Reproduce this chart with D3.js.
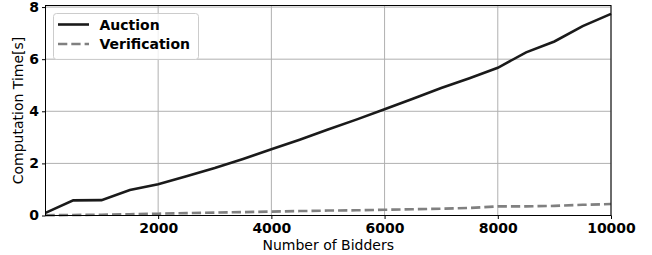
<!DOCTYPE html>
<html><head><meta charset="utf-8">
<script src="https://cdn.jsdelivr.net/npm/d3@7"></script>
<style>body{margin:0;background:#fff}svg{display:block}</style>
</head><body>
<script>
const bidders = [10,500,1000,1500,2000,2500,3000,3500,4000,4500,5000,5500,6000,6500,7000,7500,8000,8500,9000,9500,10000];
const auction = [0.10,0.58,0.59,0.98,1.20,1.51,1.82,2.17,2.54,2.91,3.30,3.68,4.08,4.48,4.89,5.27,5.67,6.26,6.68,7.27,7.74];
const verification = [0.01,0.02,0.03,0.05,0.07,0.09,0.11,0.13,0.15,0.17,0.19,0.20,0.22,0.24,0.26,0.29,0.35,0.35,0.37,0.41,0.44];
const xTicks = [2000,4000,6000,8000,10000];
const yTicks = [0,2,4,6,8];
const seriesNames = ["Auction","Verification"];

const W=652,H=255;
const L=45.5,R=611,T=5.5,B=215.5;
const svg=d3.select("body").append("svg").attr("width",W).attr("height",H);
const x=d3.scaleLinear().domain([10,10000]).range([L,R]);
const y=d3.scaleLinear().domain([0,8.06]).range([B,T]);
const font="DejaVu Sans";

// grid
svg.append("g").selectAll("line").data(xTicks).join("line")
 .attr("x1",d=>x(d)).attr("x2",d=>x(d)).attr("y1",T).attr("y2",B)
 .attr("stroke","#b0b0b0").attr("stroke-width",1);
svg.append("g").selectAll("line").data(yTicks).join("line")
 .attr("y1",d=>y(d)).attr("y2",d=>y(d)).attr("x1",L).attr("x2",R)
 .attr("stroke","#b0b0b0").attr("stroke-width",1);

// lines
const line=d3.line().x((d,i)=>x(bidders[i])).y(d=>y(d));
svg.append("path").datum(verification).attr("d",line).attr("fill","none")
 .attr("stroke","#808080").attr("stroke-width",2.6).attr("stroke-dasharray","9.3,4");
svg.append("path").datum(auction).attr("d",line).attr("fill","none")
 .attr("stroke","#1a1a1a").attr("stroke-width",2.6);

// axes
const xAx=svg.append("g").attr("transform",`translate(0,${B})`)
 .call(d3.axisBottom(x).tickValues(xTicks).tickFormat(d3.format("d")).tickSize(3.5).tickPadding(4).tickSizeOuter(0));
const yAx=svg.append("g").attr("transform",`translate(${L},0)`)
 .call(d3.axisLeft(y).tickValues(yTicks).tickFormat(d3.format("d")).tickSize(3.5).tickPadding(3).tickSizeOuter(0));
[xAx,yAx].forEach(a=>{
 a.select(".domain").remove();
 a.selectAll("text").attr("font-family",font).attr("font-size",14).attr("font-weight","bold").attr("fill","#000");
 a.selectAll("line").attr("stroke","#000");
});
// frame
svg.append("rect").attr("x",L).attr("y",T).attr("width",R-L).attr("height",B-T)
 .attr("fill","none").attr("stroke","#000").attr("stroke-width",1);

// labels
svg.append("text").attr("x",(L+R)/2).attr("y",250).attr("text-anchor","middle")
 .attr("font-family",font).attr("font-size",14).text("Number of Bidders");
svg.append("text").attr("transform",`translate(23,${(T+B)/2}) rotate(-90)`).attr("text-anchor","middle")
 .attr("font-family",font).attr("font-size",14).text("Computation Time[s]");

// legend
const lg=svg.append("g");
lg.append("rect").attr("x",53.5).attr("y",13.5).attr("width",145).attr("height",46).attr("rx",3)
 .attr("fill","#fff").attr("fill-opacity",0.8).attr("stroke","#cccccc");
const styles=[{c:"#1a1a1a",d:null},{c:"#808080",d:"9.3,4"}];
seriesNames.forEach((n,i)=>{
 const yy=24.5+i*19.5;
 lg.append("line").attr("x1",58).attr("x2",89).attr("y1",yy).attr("y2",yy)
  .attr("stroke",styles[i].c).attr("stroke-width",2.6).attr("stroke-dasharray",styles[i].d);
 lg.append("text").attr("x",99.5).attr("y",yy+5).attr("font-family",font).attr("font-size",14)
  .attr("font-weight","bold").text(n);
});
</script>
</body></html>
